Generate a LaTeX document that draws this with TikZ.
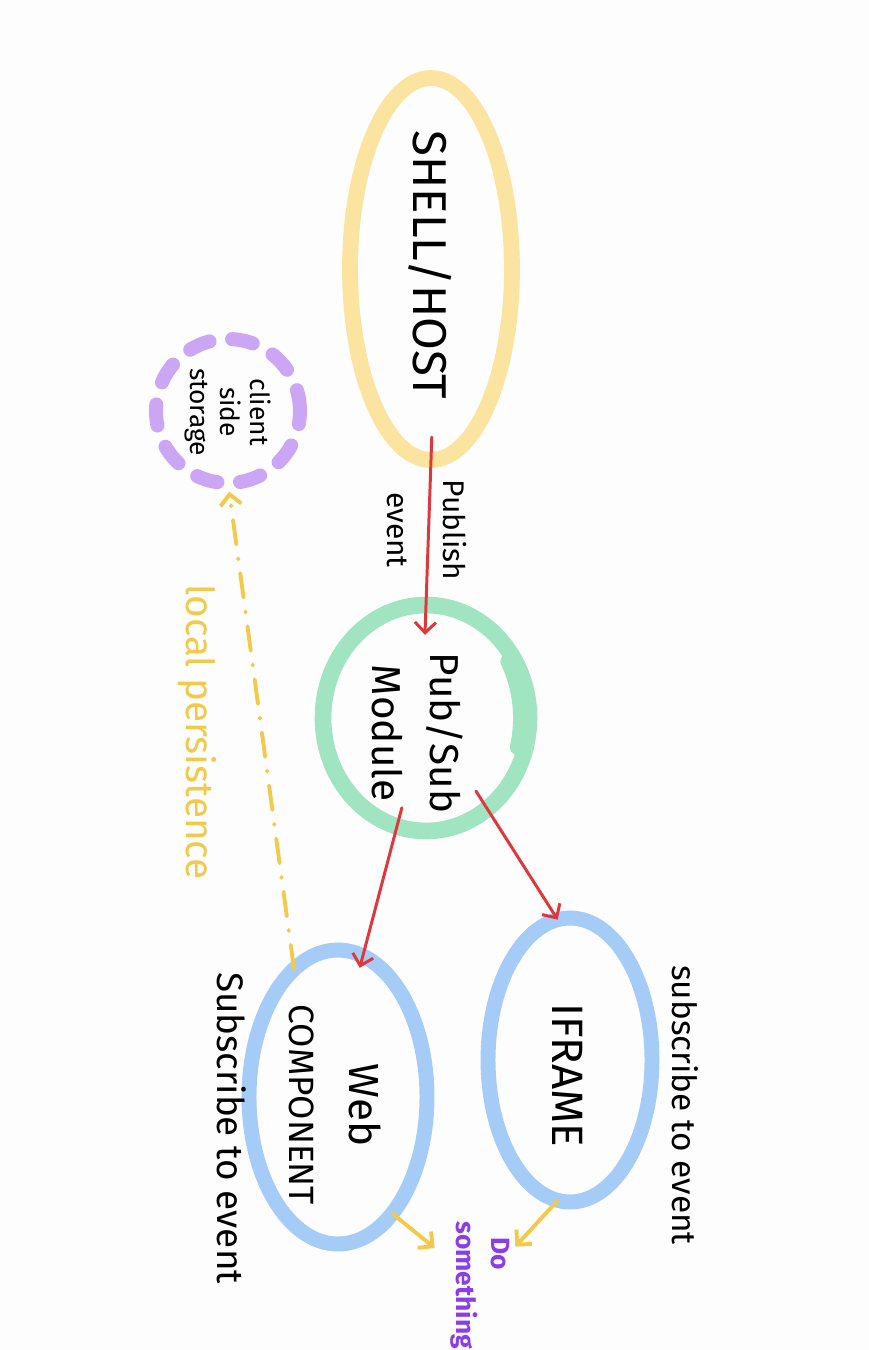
\documentclass[tikz,border=0pt]{standalone}
\usepackage{fontspec}
\setmainfont{Fira Sans}
\usetikzlibrary{arrows.meta,shapes.geometric}
\definecolor{bgc}{RGB}{253,253,253}
\definecolor{shellc}{RGB}{251,227,160}
\definecolor{greenc}{RGB}{160,228,194}
\definecolor{bluec}{RGB}{164,204,246}
\definecolor{lavc}{RGB}{203,166,245}
\definecolor{redc}{RGB}{222,56,60}
\definecolor{goldc}{RGB}{243,201,74}
\definecolor{purpc}{RGB}{139,61,230}
\begin{document}
\begin{tikzpicture}[x=0.02cm,y=-0.02cm,
  blob/.style={ellipse, draw, inner sep=0pt, outer sep=0pt},
  lbl/.style={rotate=-90, align=center, inner sep=1pt, text=black},
  redarrow/.style={draw=redc, line width=1.7pt, line cap=round,
    -{Straight Barb[length=6pt,width=12pt]}},
  goldarrow/.style={draw=goldc, line width=2.2pt, line cap=round,
    -{Straight Barb[length=6pt,width=12pt]}}
]
\fill[bgc] (0,0) rectangle (869,1350);
\useasboundingbox (0,0) rectangle (869,1350);

% shapes
\node[blob, draw=shellc, line width=9pt, minimum width=3.24cm, minimum height=7.64cm] (shell) at (431,269) {};
\node[blob, draw=lavc, line width=8pt, line cap=round, dash pattern=on 12pt off 13pt, minimum width=2.88cm, minimum height=2.88cm] (storage) at (228,411) {};
\node[blob, draw=greenc, line width=9.5pt, minimum width=4.12cm, minimum height=4.52cm] (pubsub) at (426,718) {};
\draw[greenc, line width=9pt, line cap=round] (pubsub.center) ++(-30:95 and 113) arc[start angle=-30, end angle=15, x radius=95, y radius=113];
\node[blob, draw=bluec, line width=8.5pt, minimum width=3.28cm, minimum height=5.68cm] (iframe) at (570,1060) {};
\node[blob, draw=bluec, line width=8.5pt, minimum width=3.56cm, minimum height=5.88cm] (web) at (338,1097) {};

% texts in shapes
\node[lbl, font=\fontsize{27}{32}\selectfont] (shelltext) at (430,265) {SHELL/HOST};
\node[lbl, font=\fontsize{15}{17}\selectfont] (storagetext) at (228,412) {client\\side\\storage};
\node[lbl, font=\fontsize{23}{33}\selectfont] (pubsubtext) at (418,733) {Pub/Sub\\Module};
\node[lbl, font=\fontsize{25}{30}\selectfont] (iframetext) at (568,1075) {IFRAME};
\node[lbl, font=\fontsize{24}{34}\selectfont] (webtext) at (335,1105) {Web\\\fontsize{20}{34}\selectfont COMPONENT};

% labels
\node[lbl, font=\fontsize{17}{32}\selectfont] (publish) at (427,530) {Publish\\event};
\node[lbl, text=goldc, font=\fontsize{22}{26}\selectfont] (localp) at (197,732) {local persistence};
\node[lbl, font=\fontsize{19}{22}\selectfont] (subr) at (685,1105) {subscribe to event};
\node[lbl, font=\fontsize{21}{24}\selectfont] (subl) at (232,1128) {Subscribe to event};
\node[lbl, text=purpc, align=left, font=\fontsize{15}{20}\bfseries\selectfont] (dosomething) at (480,1285) {\hspace*{9pt}Do\\something};

% connectors
\draw[redarrow, shorten <=-13pt, shorten >=-17pt] (shell.south) -- (pubsub.north);
\draw[redarrow, shorten <=-11pt, shorten >=-7pt] (pubsub.-105) -- (web.80);
\draw[redarrow, shorten <=-12pt] (pubsub.-56) -- (iframe.95);
\draw[goldarrow, dash pattern=on 14pt off 8pt on 0.5pt off 8pt, shorten >=5pt] (web.109) -- (storage.south);
\draw[goldarrow, shorten >=3pt] (iframe.-95) -- (dosomething);
\draw[goldarrow, shorten >=10pt] (web.-65) -- (dosomething);
\end{tikzpicture}
\end{document}
